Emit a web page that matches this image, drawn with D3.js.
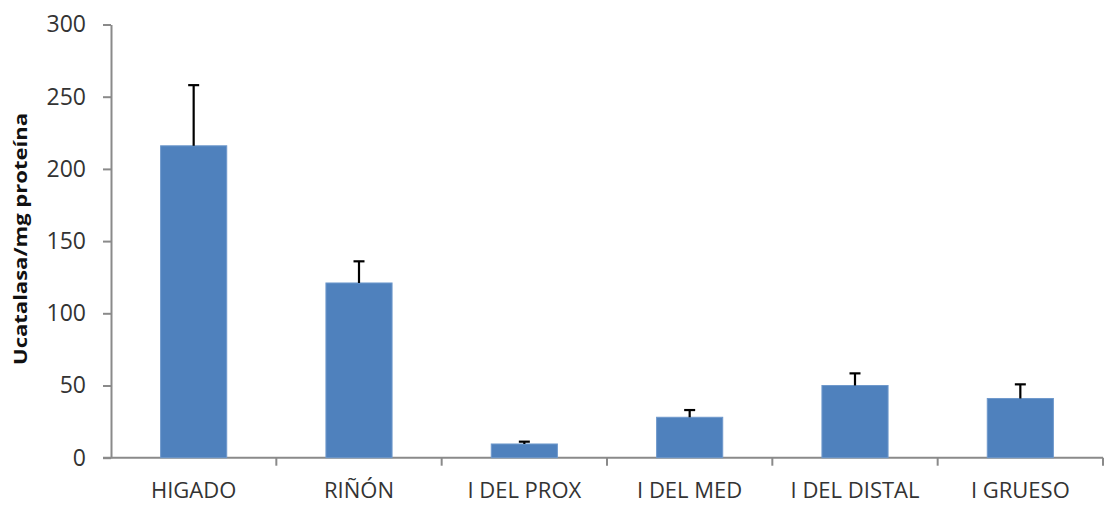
<!DOCTYPE html>
<html>
<head>
<meta charset="utf-8">
<script src="https://cdn.jsdelivr.net/npm/d3@7"></script>
<style>
  html, body { margin: 0; padding: 0; background: #fff; }
  svg text { font-family: "Open Sans", "Noto Sans", sans-serif; fill: #333; }
</style>
</head>
<body>
<svg id="chart" width="1111" height="505"></svg>
<script>
// Catalase activity by tissue (mean and upper error)
const categories = ["HIGADO", "RIÑÓN", "I DEL PROX", "I DEL MED", "I DEL DISTAL", "I GRUESO"];
const means = [216, 121, 9.5, 28, 50, 41];
const errors = [42, 15, 1.6, 5, 8.4, 9.8];
const yTicks = [0, 50, 100, 150, 200, 250, 300];
const yLabel = "Ucatalasa/mg proteína";

const svg = d3.select("#chart");
const margin = { left: 111, right: 8, top: 24.5, bottom: 47.3 };
const W = 1111, H = 505;

const x = d3.scaleBand()
  .domain(categories)
  .range([margin.left, W - margin.right])
  .paddingInner(0.6)
  .paddingOuter(0.3);

const y = d3.scaleLinear()
  .domain([0, 300])
  .range([H - margin.bottom, margin.top]);

const axisColor = "#8a8a8a";

// y axis
const gy = svg.append("g")
  .attr("transform", `translate(${margin.left},0)`)
  .call(d3.axisLeft(y).tickValues(yTicks).tickSize(8).tickPadding(17).tickSizeOuter(0));
gy.select(".domain").attr("stroke", axisColor).attr("stroke-width", 2);
gy.selectAll(".tick line").attr("stroke", axisColor).attr("stroke-width", 2);
gy.selectAll(".tick text").attr("font-size", 23).style("fill", "#333");

// x axis with ticks at category boundaries
const xStart = margin.left, xEnd = W - margin.right;
const gx = svg.append("g").attr("transform", `translate(0,${y(0)})`);
gx.append("line")
  .attr("x1", xStart - 8).attr("x2", xEnd)
  .attr("stroke", axisColor).attr("stroke-width", 2);
const boundaries = d3.range(categories.length + 1).map(i => xStart + i * (xEnd - xStart) / categories.length);
gx.selectAll("line.tk").data(boundaries.slice(1)).enter().append("line")
  .attr("class", "tk")
  .attr("x1", d => d).attr("x2", d => d)
  .attr("y1", 0).attr("y2", 8)
  .attr("stroke", axisColor).attr("stroke-width", 2);
gx.selectAll("text").data(categories).enter().append("text")
  .attr("x", d => x(d) + x.bandwidth() / 2)
  .attr("y", 40.5)
  .attr("text-anchor", "middle")
  .attr("font-size", 22)
  .text(d => d);

// bars
const data = categories.map((c, i) => ({ c, m: means[i], e: errors[i] }));
svg.append("g").selectAll("rect").data(data).enter().append("rect")
  .attr("x", d => x(d.c))
  .attr("width", x.bandwidth())
  .attr("y", d => y(d.m))
  .attr("height", d => y(0) - y(d.m))
  .attr("fill", "#4f81bd")
  .attr("stroke", "#6f99cc")
  .attr("stroke-width", 1);

// error bars (upper only)
const eb = svg.append("g").attr("stroke", "#000").attr("stroke-width", 2.2);
data.forEach(d => {
  const cx = x(d.c) + x.bandwidth() / 2;
  eb.append("line").attr("x1", cx).attr("x2", cx).attr("y1", y(d.m)).attr("y2", y(d.m + d.e));
  eb.append("line").attr("x1", cx - 5.5).attr("x2", cx + 5.5).attr("y1", y(d.m + d.e)).attr("y2", y(d.m + d.e));
});

// y axis title
svg.append("text")
  .attr("transform", "translate(27,239) rotate(-90)")
  .attr("text-anchor", "middle")
  .attr("font-size", 17)
  .attr("font-weight", "bold")
  .attr("textLength", 252)
  .attr("lengthAdjust", "spacingAndGlyphs")
  .style("fill", "#111")
  .text(yLabel);
</script>
</body>
</html>
